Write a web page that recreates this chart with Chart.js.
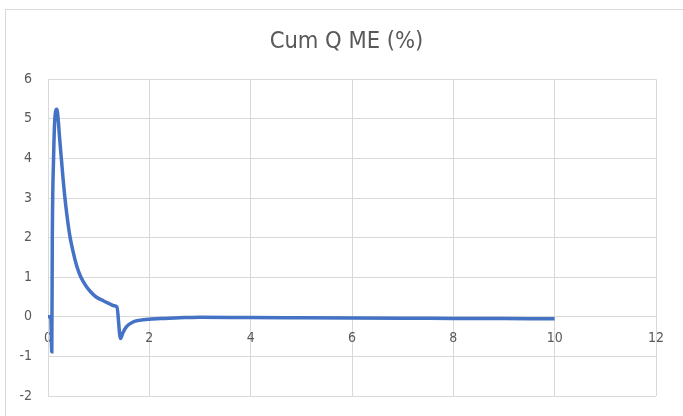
<!DOCTYPE html>
<html>
<head>
<meta charset="utf-8">
<script src="https://cdn.jsdelivr.net/npm/chart.js@4/dist/chart.umd.min.js"></script>
<style>
  html, body { margin: 0; padding: 0; background: #ffffff; overflow: hidden; }
  #frame {
    position: absolute; left: 5px; top: 9px; width: 700px; height: 430px;
    border: 1px solid #d9d9d9; box-sizing: border-box;
  }
  #wrap { position: absolute; left: 0; top: 0; width: 683px; height: 416px; }
</style>
</head>
<body>
<div id="frame"></div>
<div id="wrap"><canvas id="qChart" width="683" height="416"></canvas></div>
<script>
  const chartTitle = "Cum Q ME (%)";

  // time axis and cumulative Q mass error (%)
  const xs = [0, 0.055, 0.075, 0.085, 0.11, 0.135, 0.174, 0.2, 0.23, 0.27, 0.3, 0.33, 0.37, 0.43, 0.5, 0.57, 0.65, 0.75, 0.85, 0.95,
    1.1, 1.2, 1.3, 1.36, 1.43, 1.48, 1.55, 1.68, 1.8, 2.0, 2.3, 2.7, 3.0, 4.0, 5.0, 6.0, 7.0, 8.0, 9.0, 10.0];
  const ys = [0, 0, -0.88, 2.0, 4.0, 5.0, 5.24, 5.0, 4.5, 3.9, 3.45, 3.05, 2.6, 2.05, 1.62, 1.27, 1.0, 0.78, 0.62, 0.5,
    0.4, 0.34, 0.28, 0.25, -0.55, -0.4, -0.25, -0.13, -0.09, -0.06, -0.04, -0.02, -0.01, -0.02, -0.025, -0.03, -0.035, -0.04, -0.045, -0.05];

  const xTicks = [0, 2, 4, 6, 8, 10, 12];
  const yTicks = [-2, -1, 0, 1, 2, 3, 4, 5, 6];

  const points = xs.map((x, i) => ({ x, y: ys[i] }));

  const labelFont = { family: '"Liberation Sans Narrow", "DejaVu Sans Condensed", sans-serif', size: 14 };
  const gridColor = "#d9d9d9";
  const textColor = "#595959";

  new Chart(document.getElementById("qChart"), {
    type: "scatter",
    data: {
      datasets: [
        {
          data: points,
          showLine: true,
          borderColor: "#4472C4",
          borderWidth: 3.5,
          pointRadius: 0,
          cubicInterpolationMode: "monotone"
        }
      ]
    },
    options: {
      responsive: false,
      animation: false,
      layout: { padding: { left: 10, right: 0, bottom: 20, top: 0 } },
      plugins: {
        legend: { display: false },
        tooltip: { enabled: false },
        title: {
          display: true,
          text: chartTitle,
          color: textColor,
          font: { family: labelFont.family, size: 23.5, weight: "normal" },
          padding: { top: 28, bottom: 23 }
        }
      },
      scales: {
        x: {
          type: "linear",
          position: { y: 0 },
          min: xTicks[0],
          max: xTicks[xTicks.length - 1],
          afterBuildTicks: (scale) => { scale.ticks = xTicks.map((v) => ({ value: v })); },
          // right gap comes from the axis, so the title stays centred on the full width
          afterFit: (scale) => {
            scale.paddingRight = 27;
            scale.paddingTop = 0;
            scale.paddingBottom = 0;
          },
          grid: { color: gridColor, drawTicks: false },
          border: { color: gridColor },
          ticks: { color: textColor, font: labelFont, padding: 13, maxRotation: 0 }
        },
        y: {
          type: "linear",
          min: yTicks[0],
          max: yTicks[yTicks.length - 1],
          afterBuildTicks: (scale) => { scale.ticks = yTicks.map((v) => ({ value: v })); },
          afterFit: (scale) => {
            scale.width = 38;
            scale.paddingTop = 0;
            scale.paddingBottom = 0;
          },
          grid: { color: gridColor, drawTicks: false },
          border: { color: gridColor },
          ticks: { color: textColor, font: labelFont, padding: 16 }
        }
      }
    }
  });
</script>
</body>
</html>
